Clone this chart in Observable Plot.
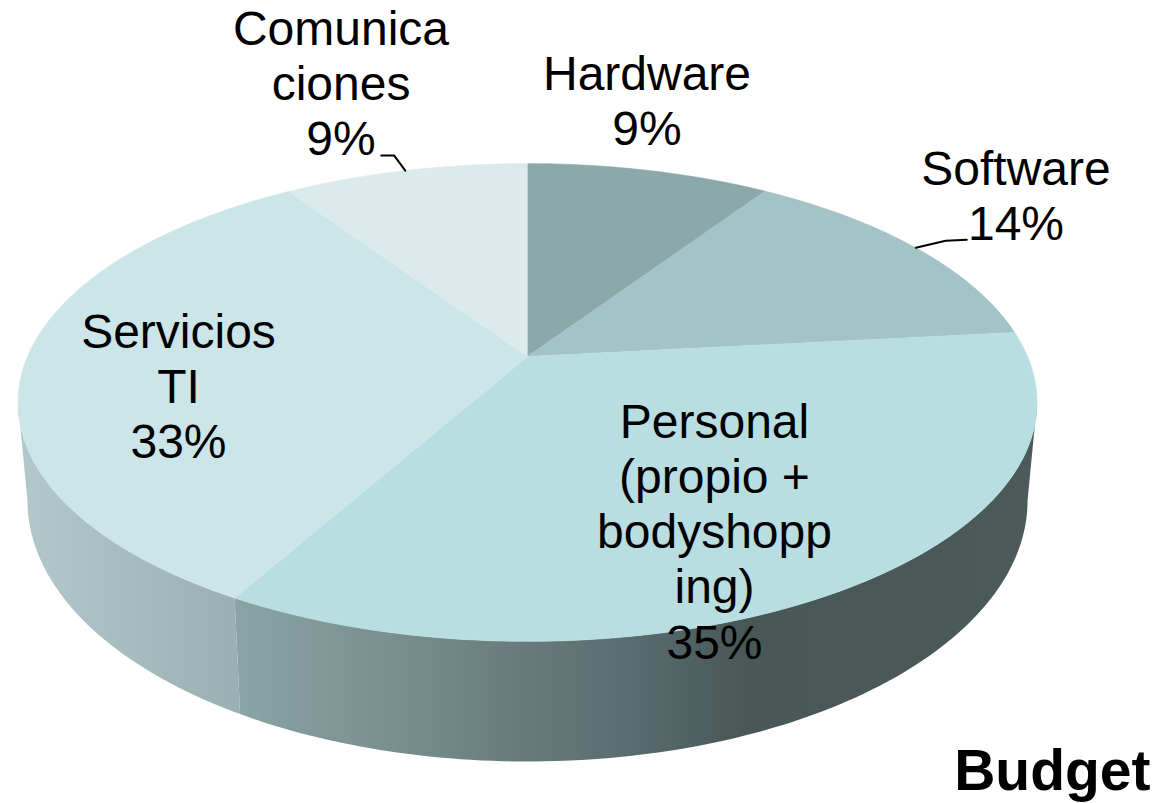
<!DOCTYPE html>
<html>
<head>
<meta charset="utf-8">
<script src="https://cdn.jsdelivr.net/npm/d3@7"></script>
<script src="https://cdn.jsdelivr.net/npm/@observablehq/plot@0.6"></script>
<style>
html,body{margin:0;padding:0;background:#fff}
svg{display:block}
</style>
</head>
<body>
<div id="chart"></div>
<script>
const categories = ["Hardware", "Software", "Personal", "Servicios TI", "Comunicaciones"];
const values = [9.3, 14.0, 34.8, 32.55, 9.35];
const percentLabels = ["9%", "14%", "35%", "33%", "9%"];
const wrappedNames = ["Hardware", "Software", "Personal\n(propio +\nbodyshopp\ning)", "Servicios\nTI", "Comunica\nciones"];
const title = "Budget";

// STYLE
const sliceColors = ["#8ba8aa", "#a3c3c6", "#b8dee1", "#cce5e9", "#dbebec"];
const wallStops = {
  wallPersonal: [[235, "#8aa4a6"], [390, "#7a8f8f"], [520, "#677b7c"], [640, "#586a6e"], [745, "#485856"], [1040, "#4c5a59"]],
  wallServicios: [[20, "#b2c8ca"], [243, "#9aafb1"]]
};

// LAYOUT: perspective pie projection
const top_ = {cx: 527, cy: 356, a: 500, b: 230};
const bottom = {cx: 527, cy: 449.8, a: 490.7, b: 251.3};
const k = 0.1925;
const project = (deg, p) => {
  const t = deg * Math.PI / 180, X = Math.sin(t), Y = Math.cos(t), w = 1 + k * Y;
  return {x: p.cx + p.a * X / w, y: p.cy - p.b * Y / w};
};
const labelPos = [[646.5, 99.5], [1015.5, 194.5], [714, 530], [178, 385], [340.5, 82]];
const leaderOffsets = {1: [[30, -7], [51, -8]], 4: [[-11, -15], [-24, -15]]};
const fontFamily = "'Liberation Sans', Arial, sans-serif";

// Derived from the data
const total = d3.sum(values);
const cum = d3.cumsum(values);
const startDeg = i => (i === 0 ? 0 : cum[i - 1]) / total * 360;
const endDeg = i => cum[i] / total * 360;
const arc = (a, b, p) => d3.range(0, 1.0001, 1 / Math.max(2, Math.ceil(Math.abs(b - a)))).map(f => project(a + (b - a) * f, p));

const sliceRows = categories.flatMap((name, i) => {
  const pts = [{x: top_.cx, y: top_.cy}, ...arc(startDeg(i), endDeg(i), top_)];
  return pts.map(p => ({...p, name}));
});

// Visible wall runs between the two silhouette angles
const silhouetteR = Math.acos(-k) * 180 / Math.PI;
const silhouetteL = 360 - silhouetteR;
const split = endDeg(2);
const wallPoly = (a, b) => [...arc(a, b, top_), ...arc(b, a, bottom)];
const wallPersonal = wallPoly(silhouetteR, split);
const wallServicios = wallPoly(split, silhouetteL);

const labelRows = categories.map((name, i) => ({
  name, text: wrappedNames[i] + "\n" + percentLabels[i], x: labelPos[i][0], y: labelPos[i][1]
}));

const leaderRows = Object.entries(leaderOffsets).flatMap(([i, offs]) => {
  const mid = project((startDeg(+i) + endDeg(+i)) / 2, top_);
  return [mid, ...offs.map(([dx, dy]) => ({x: mid.x + dx, y: mid.y + dy}))].map(p => ({...p, name: categories[+i]}));
});

const defsMark = () => {
  const ns = "http://www.w3.org/2000/svg";
  const defs = document.createElementNS(ns, "defs");
  for (const [id, stops] of Object.entries(wallStops)) {
    const g = document.createElementNS(ns, "linearGradient");
    g.setAttribute("id", id);
    g.setAttribute("gradientUnits", "userSpaceOnUse");
    g.setAttribute("x1", 0); g.setAttribute("x2", 1160);
    g.setAttribute("y1", 0); g.setAttribute("y2", 0);
    for (const [x, c] of stops) {
      const s = document.createElementNS(ns, "stop");
      s.setAttribute("offset", x / 1160);
      s.setAttribute("stop-color", c);
      g.appendChild(s);
    }
    defs.appendChild(g);
  }
  return defs;
};

const chart = Plot.plot({
  width: 1160,
  height: 803,
  margin: 0,
  x: {domain: [0, 1160], range: [0, 1160], axis: null},
  y: {domain: [0, 803], range: [0, 803], axis: null},
  color: {domain: categories, range: sliceColors},
  style: {background: "#fff", fontFamily},
  marks: [
    defsMark,
    Plot.line(wallPersonal, {x: "x", y: "y", fill: "url(#wallPersonal)", stroke: "none"}),
    Plot.line(wallServicios, {x: "x", y: "y", fill: "url(#wallServicios)", stroke: "none"}),
    Plot.line(sliceRows, {x: "x", y: "y", z: "name", fill: "name", stroke: "name", strokeWidth: 0.6, curve: "linear"}),
    Plot.line(leaderRows, {x: "x", y: "y", z: "name", stroke: "#000", strokeWidth: 2, strokeLinejoin: "miter"}),
    Plot.text(labelRows, {x: "x", y: "y", text: "text", fontSize: 48, lineHeight: 1.15, lineAnchor: "middle", textAnchor: "middle", fill: "#000", fontFamily}),
    Plot.text([title], {frameAnchor: "bottom-right", dx: -10, dy: -14, text: d => d, fontSize: 57, fontWeight: "bold", textAnchor: "end", lineAnchor: "bottom", fill: "#000", fontFamily})
  ]
});
document.getElementById("chart").appendChild(chart);
</script>
</body>
</html>
